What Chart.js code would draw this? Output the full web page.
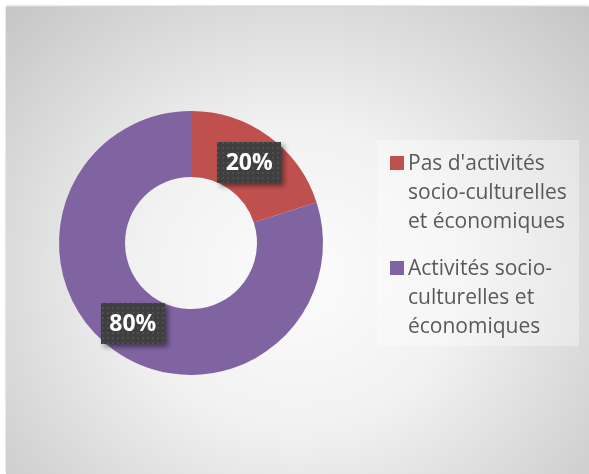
<!DOCTYPE html>
<html>
<head>
<meta charset="utf-8">
<script src="https://cdn.jsdelivr.net/npm/chart.js@4"></script>
<style>
  html, body { margin: 0; padding: 0; background: #ffffff; }
  #wrap { position: relative; width: 589px; height: 474px; overflow: hidden; }
  #panel {
    position: absolute; left: 6px; top: 7px; width: 583px; height: 467px;
    background: radial-gradient(ellipse farthest-corner at 50% 58%, #fcfcfc 0%, #f1f1f1 40%, #c5c5c5 100%);
    box-shadow: 0 -1px 2px rgba(0,0,0,0.25);
  }
  #chart { position: absolute; left: 0; top: 0; }
</style>
</head>
<body>
<div id="wrap">
  <div id="panel"></div>
  <canvas id="chart" width="589" height="474"></canvas>
</div>
<script>
// data
const categories = ["Pas d'activités socio-culturelles et économiques", "Activités socio-culturelles et économiques"];
const legendLines = [
    ["Pas d'activités", "socio-culturelles", "et économiques"],
    ["Activités socio-", "culturelles et", "économiques"]
];
const values = [20, 80];
const sliceColors = ['#C0504D', '#8064A2'];

// dotted dark fill for the value boxes
function dotPattern(ctx) {
    const c = document.createElement('canvas');
    c.width = 5; c.height = 5;
    const p = c.getContext('2d');
    p.fillStyle = '#3f3f3f';
    p.fillRect(0, 0, 5, 5);
    p.fillStyle = '#4e4e4e';
    p.fillRect(2, 2, 2, 2);
    return ctx.createPattern(c, 'repeat');
}

const valueBoxes = {
    id: 'valueBoxes',
    afterDatasetsDraw(chart) {
        const ctx = chart.ctx;
        const total = values.reduce((a, b) => a + b, 0);
        const meta = chart.getDatasetMeta(0);
        ctx.save();
        ctx.font = 'bold 23px "Open Sans"';
        meta.data.forEach((arc, i) => {
            const pos = arc.tooltipPosition();
            const txt = Math.round(values[i] / total * 100) + '%';
            const w = 64, h = 41;
            const x = Math.round(pos.x - w / 2), y = Math.round(pos.y - h / 2);
            ctx.save();
            ctx.shadowColor = 'rgba(0,0,0,0.45)';
            ctx.shadowBlur = 5;
            ctx.shadowOffsetX = 3;
            ctx.shadowOffsetY = 3;
            ctx.fillStyle = dotPattern(ctx);
            ctx.fillRect(x, y, w, h);
            ctx.restore();
            ctx.fillStyle = '#ffffff';
            ctx.textAlign = 'center';
            ctx.textBaseline = 'middle';
            ctx.fillText(txt, pos.x, pos.y + 1);
        });
        ctx.restore();
    }
};

const sideLegend = {
    id: 'sideLegend',
    afterDraw(chart) {
        const ctx = chart.ctx;
        ctx.save();
        ctx.fillStyle = 'rgba(255,255,255,0.35)';
        ctx.fillRect(377, 140, 202, 206);
        ctx.font = '21px "Open Sans"';
        ctx.textBaseline = 'alphabetic';
        ctx.textAlign = 'left';
        let base = 170;
        legendLines.forEach((lines, i) => {
            ctx.fillStyle = sliceColors[i];
            ctx.fillRect(390, base - 14, 14, 14);
            ctx.fillStyle = '#595959';
            lines.forEach((line, j) => {
                ctx.fillText(line, 408, base + j * 29);
            });
            base += 105;
        });
        ctx.restore();
    }
};

const ctx = document.getElementById('chart').getContext('2d');
new Chart(ctx, {
    type: 'doughnut',
    data: {
        labels: categories,
        datasets: [{
            data: values,
            backgroundColor: sliceColors,
            borderWidth: 0
        }]
    },
    options: {
        responsive: false,
        animation: false,
        cutout: '50%',
        layout: {
            padding: { left: 59, top: 111, right: 266, bottom: 99 }
        },
        plugins: {
            legend: { display: false },
            tooltip: { enabled: false }
        }
    },
    plugins: [valueBoxes, sideLegend]
});
</script>
</body>
</html>
